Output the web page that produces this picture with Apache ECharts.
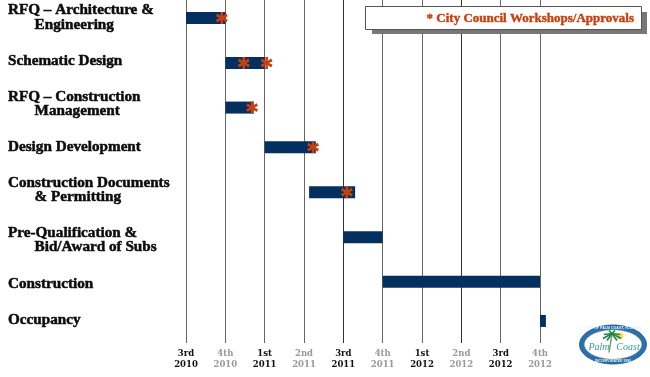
<!DOCTYPE html>
<html>
<head>
<meta charset="utf-8">
<style>html,body{margin:0;padding:0;background:#fff}#main{width:650px;height:377px}</style>
<script src="https://cdn.jsdelivr.net/npm/echarts@6/dist/echarts.min.js"></script>
</head>
<body>
<div id="main"></div>
<script>
// x values are quarters counted from 3rd 2010, y values are rows (fractional, the slide is not evenly spaced)
var task_names = ['RFQ – Architecture &\n       Engineering', 'Schematic Design', 'RFQ – Construction\n       Management', 'Design Development',
	'Construction Documents\n       & Permitting', 'Pre-Qualification &\n       Bid/Award of Subs', 'Construction', 'Occupancy'];
var task_start = [0, 1, 1, 2, 3.13, 4, 5, 9];
var task_end = [1, 2, 1.72, 3.3, 4.3, 5, 9, 9.15];
var bar_rows = [0, 1, 1.99, 2.87, 3.87, 4.87, 5.86, 6.73];
var label_rows = [-0.01, 0.955, 1.91, 2.87, 3.82, 4.93, 5.91, 6.71];
var star_x = [0.91, 1.47, 2.05, 1.68, 3.23, 4.09];
var star_rows = [0, 1, 1, 1.99, 2.87, 3.87];
var quarter_names = ['3rd', '4th', '1st', '2nd', '3rd', '4th', '1st', '2nd', '3rd', '4th'];
var quarter_years = ['2010', '2010', '2011', '2011', '2011', '2011', '2012', '2012', '2012', '2012'];

var FONT = '"Liberation Serif"';
var NAVY = '#04305f';
var RED = '#c8400f';

function zip(a, b){
	var out = [];
	for(var i = 0; i < a.length; i++){
		out.push([a[i], b[i]]);
	}
	return out;
}

function render_bar(params, api){
	var p0 = api.coord([api.value(0), api.value(2)]);
	var p1 = api.coord([api.value(1), api.value(2)]);
	return {
		type: 'rect',
		shape: {x: p0[0], y: p0[1] - 6, width: p1[0] - p0[0], height: 12},
		style: {fill: NAVY}
	};
}

function render_name(params, api){
	return {
		type: 'text',
		x: 8,
		y: api.coord([0, api.value(0)])[1],
		style: {
			text: task_names[params.dataIndex],
			fill: '#0c0c0c',
			stroke: '#0c0c0c',
			lineWidth: 0.5,
			font: 'bold 15.2px ' + FONT,
			lineHeight: 14.5,
			textVerticalAlign: 'middle'
		}
	};
}

// the seal in the lower right corner
function logo_items(){
	var cx = 613, cy = 344.5, items = [];
	var teal = '#3a9a96';
	items.push({type: 'ellipse', shape: {cx: cx, cy: cy, rx: 33.5, ry: 19.5}, style: {fill: '#2a6fb0', stroke: '#1c5590', lineWidth: 0.8}});
	items.push({type: 'ellipse', shape: {cx: cx, cy: cy, rx: 28.5, ry: 14.5}, style: {fill: '#fff', stroke: '#d8c860', lineWidth: 0.5}});
	items.push({type: 'circle', shape: {cx: cx + 7, cy: cy - 8.5, r: 3.2}, style: {fill: '#f6d94a'}});
	items.push({type: 'line', shape: {x1: cx - 1, y1: cy - 10, x2: cx - 4, y2: cy + 8}, style: {stroke: '#7f9a6a', lineWidth: 1.5}});
	var fronds = [[-9, 5], [-8, 1], [-3, -3], [3, -3], [8, 1], [9, 5], [-5, 7], [5, 7]];
	for(var i = 0; i < fronds.length; i++){
		items.push({type: 'line', shape: {x1: cx - 1, y1: cy - 11, x2: cx - 1 + fronds[i][0], y2: cy - 11 + fronds[i][1]}, style: {stroke: '#1d8a4a', lineWidth: 1.7}});
	}
	items.push({type: 'text', x: cx - 14, y: cy + 3, style: {text: 'Palm', fill: teal, font: 'italic 10px "Liberation Serif"', textAlign: 'center', textVerticalAlign: 'middle'}});
	items.push({type: 'text', x: cx + 15, y: cy + 3, style: {text: 'Coast', fill: teal, font: 'italic 10px "Liberation Serif"', textAlign: 'center', textVerticalAlign: 'middle'}});
	items.push({type: 'text', x: cx, y: cy - 17, style: {text: 'CITY OF PALM COAST, FLORIDA', fill: '#e8f0f8', font: 'bold 3.6px "Liberation Sans"', textAlign: 'center', textVerticalAlign: 'middle'}});
	items.push({type: 'text', x: cx, y: cy + 17, style: {text: 'INCORPORATED 1999', fill: '#e8f0f8', font: 'bold 3.4px "Liberation Sans"', textAlign: 'center', textVerticalAlign: 'middle'}});
	return items;
}

var myChart = echarts.init(document.getElementById('main'), null, {renderer: 'canvas'});
myChart.setOption({
	animation: false,
	backgroundColor: '#fff',
	grid: {left: 186, top: 0, width: 354, height: 343},
	xAxis: {
		type: 'value',
		min: 0,
		max: 9,
		interval: 1,
		axisLine: {show: false},
		axisTick: {show: false},
		axisLabel: {
			margin: 5,
			showMinLabel: true,
			showMaxLabel: true,
			lineHeight: 11.5,
			fontFamily: '"DejaVu Serif"',
			fontWeight: 'bold',
			fontSize: 8.5,
			color: function(value){
				return value % 2 == 0 ? '#111' : '#999';
			},
			formatter: function(value){
				return quarter_names[value] + '\n' + quarter_years[value];
			}
		},
		splitLine: {
			show: true,
			lineStyle: {color: ['#666', '#666', '#666', '#666', '#333', '#666', '#666', '#333', '#666', '#666'], width: 1}
		}
	},
	yAxis: {
		type: 'value',
		inverse: true,
		min: -0.4,
		max: 7.22,
		show: false
	},
	graphic: [
		{type: 'rect', z: 10, shape: {x: 372, y: 12, width: 275, height: 22}, style: {fill: '#777'}},
		{type: 'rect', z: 11, shape: {x: 365.5, y: 6.5, width: 276, height: 23}, style: {fill: '#fff', stroke: '#555', lineWidth: 1}},
		{type: 'text', z: 12, x: 634, y: 18.5, style: {text: '* City Council Workshops/Approvals', fill: RED, stroke: RED, lineWidth: 0.4, font: 'bold 13px ' + FONT, textAlign: 'right', textVerticalAlign: 'middle'}},
		{type: 'group', z: 12, children: logo_items()}
	],
	series: [
		{
			name: 'tasks',
			type: 'custom',
			renderItem: render_bar,
			encode: {x: [0, 1], y: 2},
			data: task_start.map(function(v, i){ return [v, task_end[i], bar_rows[i]]; }),
			z: 3
		},
		{
			name: 'names',
			type: 'custom',
			renderItem: render_name,
			coordinateSystem: 'cartesian2d',
			encode: {y: 0},
			data: label_rows.map(function(v){ return [v]; }),
			z: 3
		},
		{
			name: 'City Council Workshops/Approvals',
			type: 'scatter',
			symbol: 'path://M-1.5,-6L1.5,-6L1.2,-2.2L4.7,-4.4L6.2,-1.8L2.5,0L6.2,1.8L4.7,4.4L1.2,2.2L1.5,6L-1.5,6L-1.2,2.2L-4.7,4.4L-6.2,1.8L-2.5,0L-6.2,-1.8L-4.7,-4.4L-1.2,-2.2Z',
			symbolSize: 12,
			itemStyle: {color: RED, opacity: 1},
			data: zip(star_x, star_rows),
			z: 4
		}
	]
});
</script>
</body>
</html>
